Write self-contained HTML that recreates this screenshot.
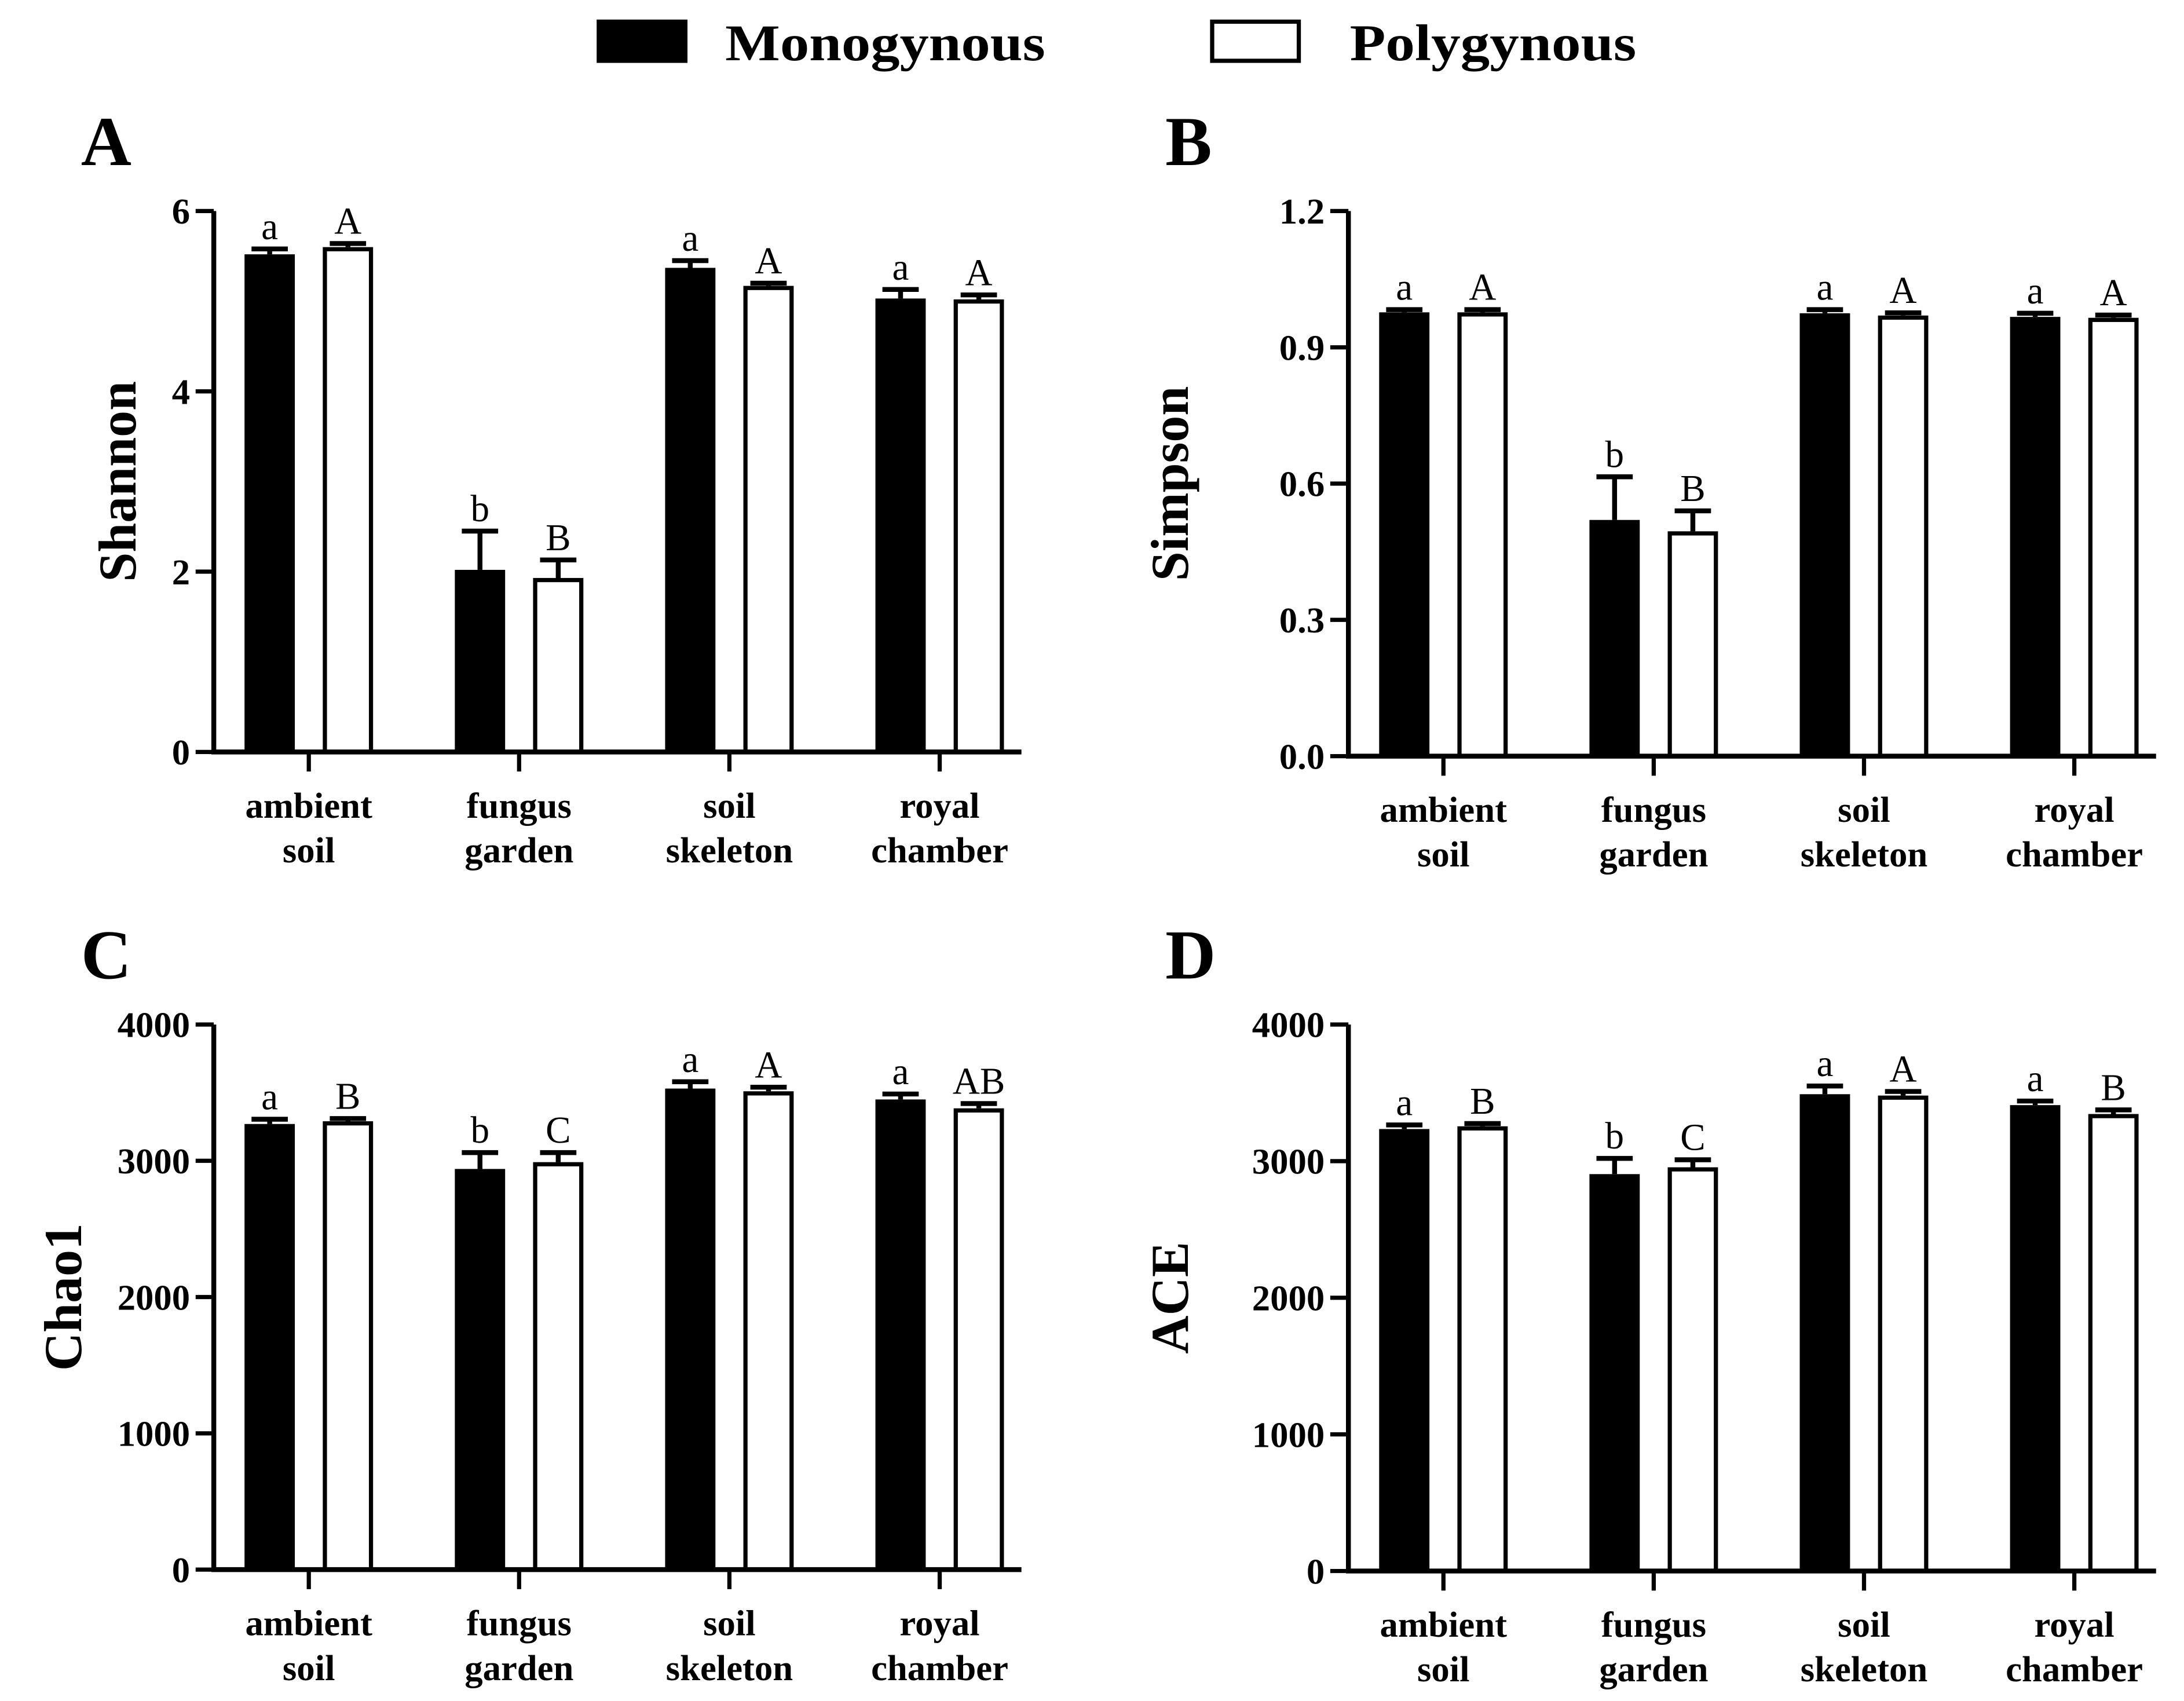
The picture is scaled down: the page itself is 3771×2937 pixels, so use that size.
<!DOCTYPE html>
<html><head><meta charset="utf-8"><style>
html,body{margin:0;padding:0;background:#fff;}
svg{display:block;}
text{font-family:"Liberation Serif",serif;fill:#000;}
</style></head><body>
<svg id="fig" width="3771" height="2937" viewBox="0 0 1563 1217" preserveAspectRatio="none" xmlns="http://www.w3.org/2000/svg">
<g>
<rect x="427" y="14" width="65" height="31" fill="#000"/>
<text x="519" y="43" font-size="37" font-weight="bold" textLength="229" lengthAdjust="spacingAndGlyphs">Monogynous</text>
<rect x="867.5" y="15.5" width="62" height="28" fill="#fff" stroke="#000" stroke-width="3"/>
<text x="966" y="43" font-size="37" font-weight="bold" textLength="205" lengthAdjust="spacingAndGlyphs">Polygynous</text>
</g>
</svg>
<script>
const categories = [["ambient","soil"],["fungus","garden"],["soil","skeleton"],["royal","chamber"]];
const shannonMono = [5.52, 2.02, 5.37, 5.03];
const shannonMonoErr = [0.06, 0.43, 0.08, 0.10];
const shannonPoly = [5.60, 1.93, 5.17, 5.02];
const shannonPolyErr = [0.04, 0.20, 0.03, 0.05];
const shannonLetters = [["a","A"],["b","B"],["a","A"],["a","A"]];
const shannonTicks = [0, 2, 4, 6];
const simpsonMono = [0.977, 0.52, 0.975, 0.967];
const simpsonMonoErr = [0.006, 0.095, 0.008, 0.008];
const simpsonPoly = [0.977, 0.495, 0.970, 0.965];
const simpsonPolyErr = [0.006, 0.045, 0.006, 0.006];
const simpsonLetters = [["a","A"],["b","B"],["a","A"],["a","A"]];
const simpsonTicks = ["0.0","0.3","0.6","0.9","1.2"];
const chaoMono = [3270, 2940, 3530, 3450];
const chaoMonoErr = [35, 120, 50, 40];
const chaoPoly = [3290, 2990, 3510, 3385];
const chaoPolyErr = [20, 70, 30, 35];
const chaoLetters = [["a","B"],["b","C"],["a","A"],["a","AB"]];
const chaoTicks = [0, 1000, 2000, 3000, 4000];
const aceMono = [3235, 2905, 3490, 3410];
const aceMonoErr = [30, 115, 60, 30];
const acePoly = [3255, 2955, 3480, 3345];
const acePolyErr = [20, 55, 30, 30];
const aceLetters = [["a","B"],["b","C"],["a","A"],["a","B"]];
const aceTicks = [0, 1000, 2000, 3000, 4000];

const NS = "http://www.w3.org/2000/svg";
const svg = document.getElementById('fig');
function mk(tag, attrs, parent){
  const e = document.createElementNS(NS, tag);
  for (const k in attrs) e.setAttribute(k, attrs[k]);
  parent.appendChild(e);
  return e;
}
function panel(p){
  const g = mk('g', {}, svg);
  
  
  const ymax = parseFloat(p.ticks[p.ticks.length-1]);
  const y = v => p.y0 - (v / ymax) * (p.y0 - p.ytop);
  const t = mk('text', {x:p.lx, y:p.ly, 'font-size':50, 'font-weight':'bold'}, g);
  
  
  t.textContent = p.letter;
  const yt = mk('text', {x:0, y:0, 'font-size':38, 'font-weight':'bold', 'text-anchor':'middle', transform:`translate(${p.tx},${(p.y0+p.ytop)/2}) rotate(-90)`}, g);
  
  
  yt.textContent = p.title;
  p.ticks.forEach(tv => {
    const v = parseFloat(tv);
    const tl = mk('line', {x1:p.ax-13, x2:p.ax, y1:y(v), y2:y(v), stroke:'#000', 'stroke-width':3}, g);
    
    
    const tx = mk('text', {x:p.ax-17, y:y(v)+9, 'font-size':26, 'font-weight':'bold', 'text-anchor':'end'}, g);
    
    
    tx.textContent = tv;
  });
  categories.forEach((c, i) => {
    const cx = p.ax + 68 + i * 150.5;
    const series = [[p.mono, p.monoErr, cx-46, true], [p.poly, p.polyErr, cx+10, false]];
    series.forEach((s, j) => {
      const v = s[0][i], e = s[1][i], bx = s[2];
      const r = s[3]
        ? mk('rect', {x:bx, y:y(v), width:36, height:p.y0-y(v), fill:'#000'}, g)
        : mk('rect', {x:bx+1.5, y:y(v)+1.5, width:33, height:p.y0-y(v)-1.5, fill:'#fff', stroke:'#000', 'stroke-width':3}, g);
      
      
      const mx = bx + 18;
      const el = mk('path', {d:`M${mx},${y(v)} V${y(v+e)} M${mx-13},${y(v+e)} H${mx+13}`, stroke:'#000', 'stroke-width':3.5, fill:'none'}, g);
      
      
      const lt = mk('text', {x:mx, y:y(v+e)-7, 'font-size':27, 'text-anchor':'middle'}, g);
      
      
      lt.textContent = p.letters[i][j];
    });
    const ct = mk('line', {x1:cx, x2:cx, y1:p.y0, y2:p.y0+14, stroke:'#000', 'stroke-width':3}, g);
    
    
    c.forEach((w, k) => {
      const xl = mk('text', {x:cx, y:p.y0+47+k*32, 'font-size':26, 'font-weight':'bold', 'text-anchor':'middle'}, g);
      
      
      xl.textContent = w;
    });
  });
  const axis = mk('path', {d:`M${p.ax},${p.ytop} V${p.y0} H${p.ax+578}`, stroke:'#000', 'stroke-width':3.5, fill:'none'}, g);
  
  
}
panel({letter:'A', lx:58, ly:118, title:'Shannon', tx:97, ax:153, y0:538, ytop:151, ticks:shannonTicks, mono:shannonMono, monoErr:shannonMonoErr, poly:shannonPoly, polyErr:shannonPolyErr, letters:shannonLetters});
panel({letter:'B', lx:834, ly:118, title:'Simpson', tx:850, ax:965, y0:541, ytop:151, ticks:simpsonTicks, mono:simpsonMono, monoErr:simpsonMonoErr, poly:simpsonPoly, polyErr:simpsonPolyErr, letters:simpsonLetters});
panel({letter:'C', lx:58, ly:700, title:'Chao1', tx:58, ax:153, y0:1123, ytop:733, ticks:chaoTicks, mono:chaoMono, monoErr:chaoMonoErr, poly:chaoPoly, polyErr:chaoPolyErr, letters:chaoLetters});
panel({letter:'D', lx:834, ly:700, title:'ACE', tx:850, ax:965, y0:1124, ytop:733, ticks:aceTicks, mono:aceMono, monoErr:aceMonoErr, poly:acePoly, polyErr:acePolyErr, letters:aceLetters});
</script>
</body></html>
